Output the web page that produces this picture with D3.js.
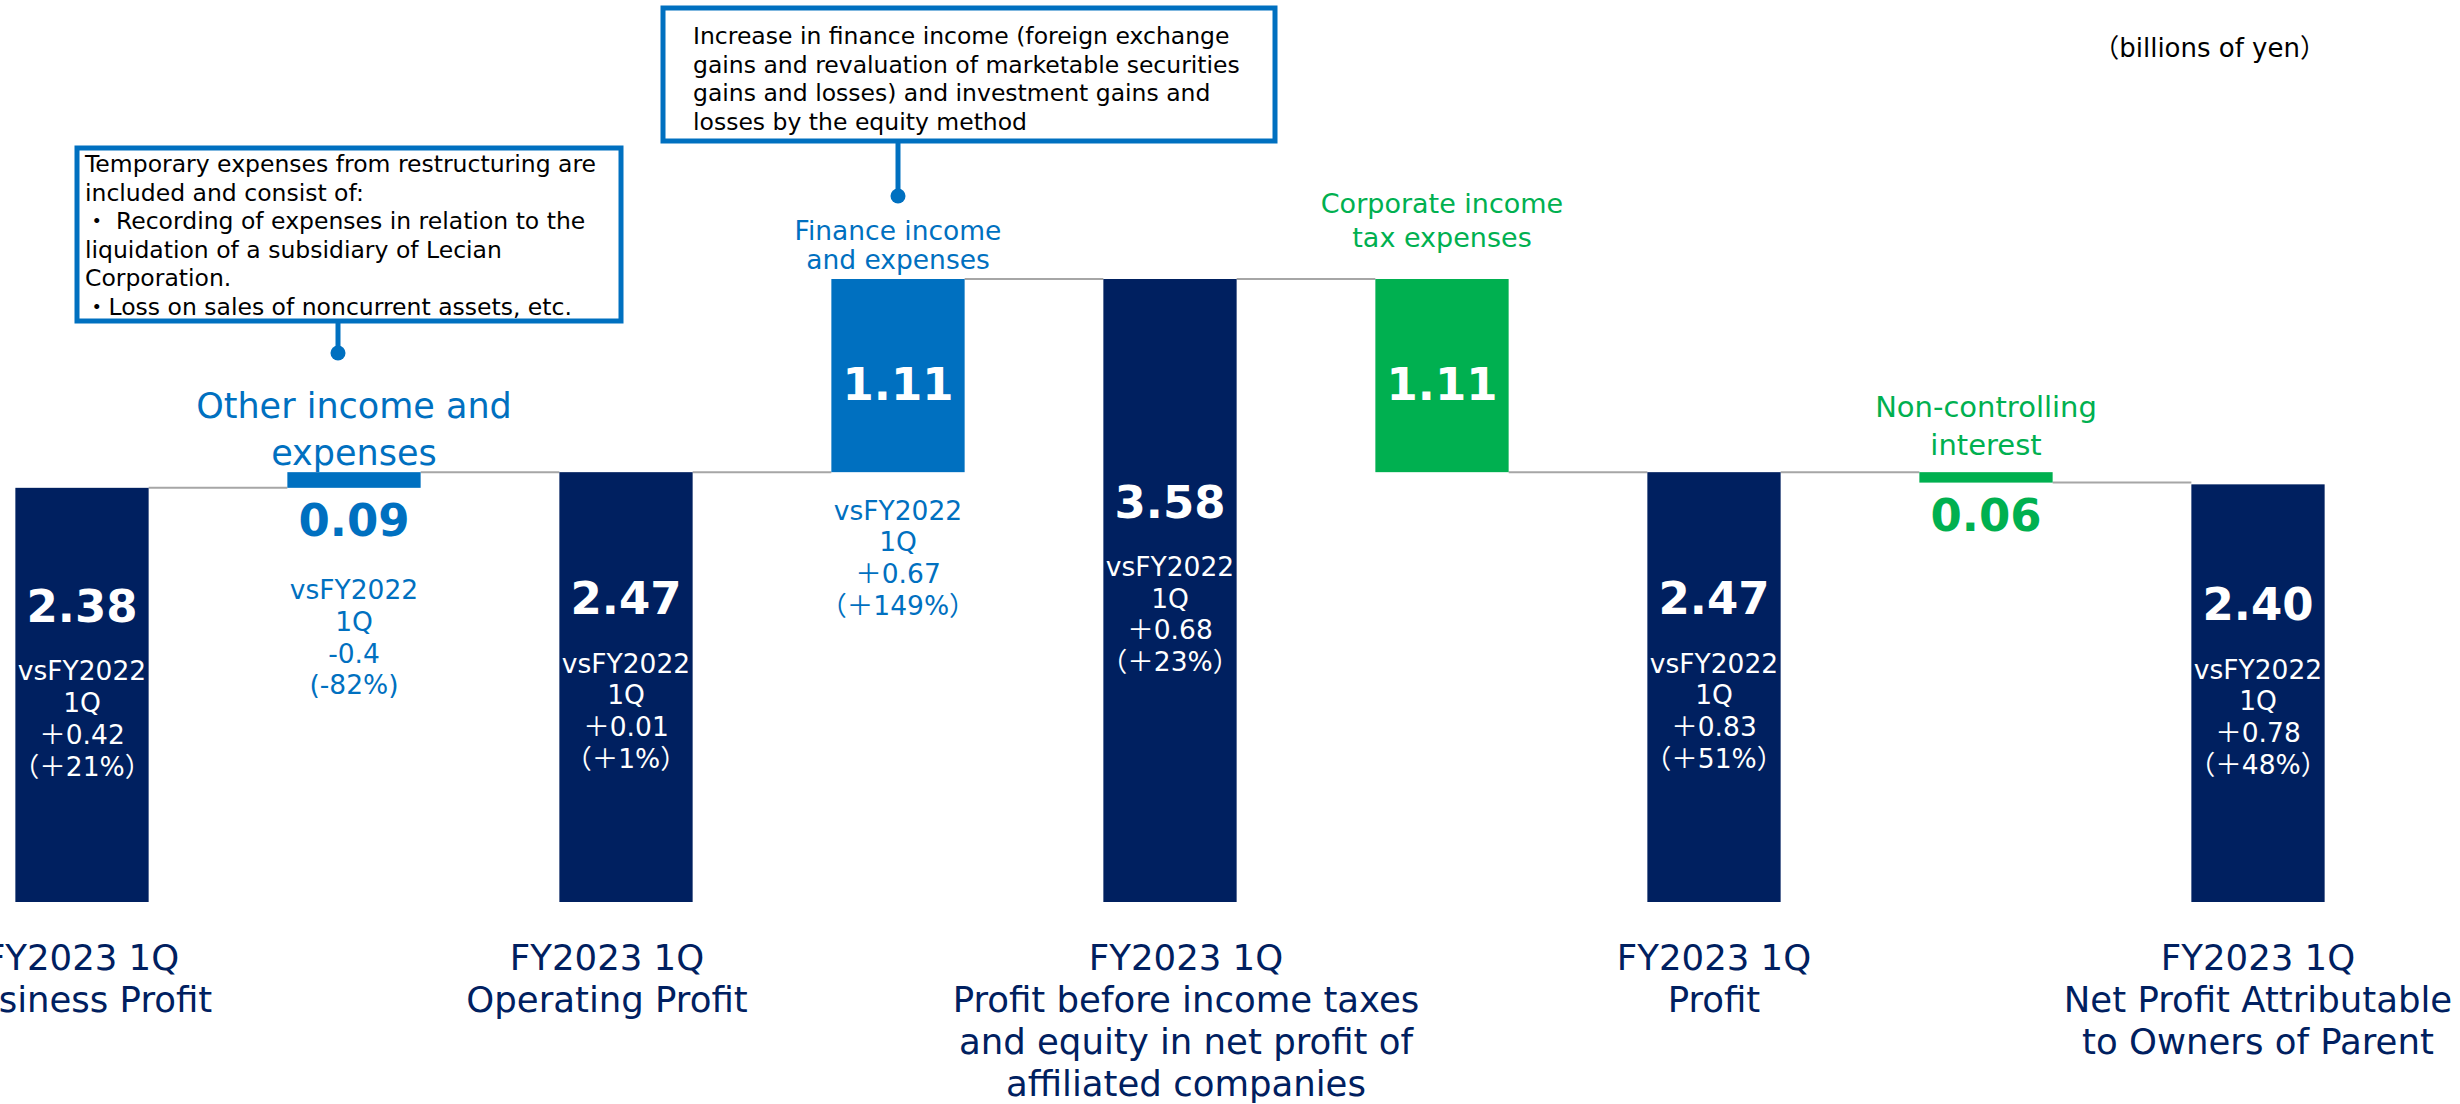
<!DOCTYPE html>
<html>
<head>
  <meta charset="UTF-8">
  <title>FY2023 1Q profit waterfall</title>
  <script src="https://d3js.org/d3.v7.min.js"></script>
  <style>
    html, body { margin: 0; padding: 0; background: #fff; }
    svg { display: block; font-family: "DejaVu Sans", Verdana, "Noto Sans CJK JP", sans-serif; }
    .note text { font-size: 23.5px; fill: #000; }
    .cat text { font-size: 35.5px; fill: #002060; text-anchor: middle; }
    .vs text { text-anchor: middle; }
    .vs text.l { font-size: 26.5px; }
    .vs text.num { font-size: 45px; font-weight: bold; }
  </style>
</head>
<body>
  <svg id="chart" width="2460" height="1104"></svg>

  <script>
    // data
    var steps = ["business", "otherIncome", "operating", "finance", "pretax", "tax", "profit", "nci", "net"];
    var kinds = ["total", "delta", "total", "delta", "total", "delta", "total", "delta", "total"];
    var values = [2.38, 0.09, 2.47, 1.11, 3.58, -1.11, 2.47, -0.06, 2.40];
    var valueLabels = ["2.38", "0.09", "2.47", "1.11", "3.58", "1.11", "2.47", "0.06", "2.40"];

    var vsLines = [
      ["vsFY2022", "1Q", "＋0.42", "（＋21%）"],
      ["vsFY2022", "1Q", "-0.4", "(-82%)"],
      ["vsFY2022", "1Q", "＋0.01", "（＋1%）"],
      ["vsFY2022", "1Q", "＋0.67", "（＋149%）"],
      ["vsFY2022", "1Q", "＋0.68", "（＋23%）"],
      [],
      ["vsFY2022", "1Q", "＋0.83", "（＋51%）"],
      [],
      ["vsFY2022", "1Q", "＋0.78", "（＋48%）"]
    ];

    // labels under the total bars
    var totalNames = [
      ["FY2023 1Q", "Business Profit"],
      [],
      ["FY2023 1Q", "Operating Profit"],
      [],
      ["FY2023 1Q", "Profit before income taxes", "and equity in net profit of", "affiliated companies"],
      [],
      ["FY2023 1Q", "Profit"],
      [],
      ["FY2023 1Q", "Net Profit Attributable", "to Owners of Parent"]
    ];

    // labels above the change bars
    var deltaNames = [
      [],
      ["Other income and", "expenses"],
      [],
      ["Finance income", "and expenses"],
      [],
      ["Corporate income", "tax expenses"],
      [],
      ["Non-controlling", "interest"],
      []
    ];

    var note1 = [
      "Temporary expenses from restructuring are",
      "included and consist of:",
      "・ Recording of expenses in relation to the",
      "liquidation of a subsidiary of Lecian",
      "Corporation.",
      "・Loss on sales of noncurrent assets, etc."
    ];
    var note2 = [
      "Increase in finance income (foreign exchange",
      "gains and revaluation of marketable securities",
      "gains and losses) and investment gains and",
      "losses by the equity method"
    ];

    var unitLabel = "（billions of yen）";

    // look
    var navy = "#002060", blue = "#0070C0", green = "#00B050";
    // per delta label: font size and gap above bar
    var deltaStyle = {
      otherIncome: { size: 35, gap: 20, lh: 47 },
      finance: { size: 26.5, gap: 20, lh: 29 },
      tax: { size: 27, gap: 42, lh: 34 },
      nci: { size: 29, gap: 28, lh: 38 }
    };
    // small horizontal nudges of the bottom names, as on the slide
    var nameShift = [0, 0, -19, 0, 16, 0, 0, 0, 0];

    var svg = d3.select("#chart");

    var x = d3.scaleBand()
              .domain(steps)
              .range([-54, 2394])
              .paddingInner(0.51)
              .paddingOuter(0.255);

    var y = d3.scaleLinear()
              .domain([0, 3.58])
              .range([902, 279]);

    // running totals for the waterfall
    var running = 0;
    var bars = steps.map(function(s, i) {
      var v = values[i], y0, y1;
      if (kinds[i] === "total") { y0 = 0; y1 = v; running = v; }
      else { y0 = running; y1 = running + v; running = y1; }
      var col = kinds[i] === "total" ? navy : (v > 0 ? blue : green);
      return { key: s, i: i, v: v, lo: Math.min(y0, y1), hi: Math.max(y0, y1), end: running, color: col };
    });

    // connector lines
    svg.append("g").selectAll("line")
       .data(bars.slice(0, -1))
       .enter()
       .append("line")
       .attr("x1", function(d) { return x(d.key) + x.bandwidth(); })
       .attr("x2", function(d) { return x(steps[d.i + 1]); })
       .attr("y1", function(d) { return y(d.end); })
       .attr("y2", function(d) { return y(d.end); })
       .attr("stroke", "#a6a6a6")
       .attr("stroke-width", 2);

    // bars
    svg.append("g").selectAll("rect")
       .data(bars)
       .enter()
       .append("rect")
       .attr("x", function(d) { return x(d.key); })
       .attr("y", function(d) { return y(d.hi); })
       .attr("width", x.bandwidth())
       .attr("height", function(d) { return y(d.lo) - y(d.hi); })
       .attr("fill", function(d) { return d.color; });

    var cx = function(d) { return x(d.key) + x.bandwidth() / 2; };

    // value labels + comparison text
    bars.forEach(function(d) {
      var g = svg.append("g").attr("class", "vs");
      var top = y(d.hi), bot = y(d.lo), numY, vsY, inside, vsCol;
      var thin = bot - top < 60;
      if (kinds[d.i] === "total") {
        numY = (top + bot) / 2 - 89;
        vsY = numY + 65;
        inside = true; vsCol = "#fff";
      } else if (thin) {
        numY = bot + 32;
        vsY = numY + 70;
        inside = false; vsCol = d.color;
      } else {
        numY = (top + bot) / 2 + 8;
        vsY = bot + 38;
        inside = true; vsCol = d.color;
      }
      g.append("text")
       .attr("class", "num")
       .attr("x", cx(d))
       .attr("y", numY)
       .attr("dy", "0.36em")
       .attr("fill", inside ? "#fff" : d.color)
       .text(valueLabels[d.i]);
      g.selectAll("text.l")
       .data(vsLines[d.i])
       .enter()
       .append("text")
       .attr("class", "l")
       .attr("x", cx(d))
       .attr("y", function(t, j) { return vsY + j * 31.7; })
       .attr("dy", "0.36em")
       .attr("fill", vsCol)
       .text(function(t) { return t; });
    });

    // names under totals
    var cat = svg.append("g").attr("class", "cat");
    bars.forEach(function(d) {
      totalNames[d.i].forEach(function(t, j) {
        cat.append("text")
           .attr("x", cx(d) + nameShift[d.i])
           .attr("y", 957 + j * 42)
           .attr("dy", "0.36em")
           .text(t);
      });
    });

    // names above change bars
    bars.forEach(function(d) {
      var st = deltaStyle[d.key];
      if (!st) return;
      var lines = deltaNames[d.i];
      lines.forEach(function(t, j) {
        svg.append("text")
           .attr("x", cx(d))
           .attr("y", y(d.hi) - st.gap - (lines.length - 1 - j) * st.lh)
           .attr("dy", "0.36em")
           .attr("text-anchor", "middle")
           .style("font-size", st.size + "px")
           .attr("fill", d.color)
           .text(t);
      });
    });

    // callout boxes
    function callout(lines, bx, by, bw, bh, tx, ty, lx, ly2) {
      var g = svg.append("g").attr("class", "note");
      g.append("line")
       .attr("x1", lx).attr("x2", lx)
       .attr("y1", by + bh).attr("y2", ly2)
       .attr("stroke", blue).attr("stroke-width", 5);
      g.append("circle")
       .attr("cx", lx).attr("cy", ly2).attr("r", 7.5)
       .attr("fill", blue);
      g.append("rect")
       .attr("x", bx).attr("y", by)
       .attr("width", bw).attr("height", bh)
       .attr("fill", "#fff")
       .attr("stroke", blue).attr("stroke-width", 5);
      g.selectAll("text.t")
       .data(lines)
       .enter()
       .append("text")
       .attr("class", "t")
       .attr("x", tx)
       .attr("y", function(t, j) { return ty + j * 28.6; })
       .text(function(t) { return t; });
    }
    callout(note1, 77, 148, 544, 173, 85, 172, cx(bars[1]) - 16, 353);
    callout(note2, 663, 8, 612, 133, 693, 44, cx(bars[3]), 196);

    svg.append("text")
       .attr("x", 2326)
       .attr("y", 57)
       .attr("text-anchor", "end")
       .style("font-size", "26px")
       .attr("fill", "#000")
       .text(unitLabel);
  </script>
</body>
</html>
